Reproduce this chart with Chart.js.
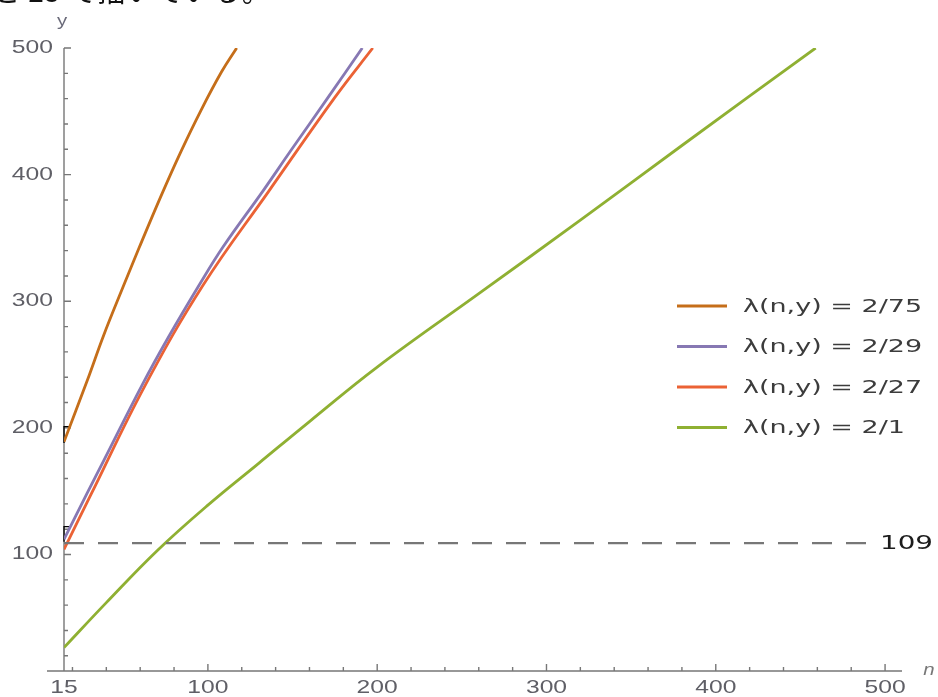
<!DOCTYPE html>
<html><head><meta charset="utf-8">
<script src="https://cdn.jsdelivr.net/npm/chart.js@4"></script>
<style>
html,body{margin:0;padding:0;background:#fff;overflow:hidden;}
#wrap{position:relative;width:938px;height:697px;}
#c{position:absolute;left:0;top:0;}
#cap{position:absolute;left:-8px;top:-24px;font-size:28px;line-height:28px;font-family:"Noto Sans CJK JP";white-space:nowrap;color:#111;letter-spacing:1px;}
</style></head><body>
<div id="wrap"><canvas id="c" width="938" height="697"></canvas><div id="cap">と 25 で描いている。</div></div>
<script>
// ---- data ----
const seriesLabels = ['λ(n,y) = 2/75', 'λ(n,y) = 2/29', 'λ(n,y) = 2/27', 'λ(n,y) = 2/1'];
const seriesColors = ['#C56E1A', '#8778B3', '#EB6235', '#8FB032'];

const n_75 = [15, 28.9, 38.4, 49.8, 59.3, 72.6, 84.0, 96.0, 108.0, 117.0];
const y_75 = [189, 238, 273, 311, 342, 384, 418, 451, 481, 500];

const n_29 = [15, 28.9, 38.4, 61.2, 76.4, 95.4, 109.0, 133.0, 149.0, 171.0, 191.2];
const y_29 = [112, 149, 174, 234, 271, 314, 343, 388, 419, 461, 500];

const n_27 = [15, 30.8, 63.1, 97.3, 136.0, 175.0, 197.4];
const y_27 = [104, 147, 234, 313, 387, 461, 500];

const n_1 = [15, 40, 70, 100, 130, 160, 200, 260, 320, 380, 459];
const y_1 = [26.5, 62, 103, 139, 172, 205, 248, 306, 364, 423, 500];

const thresholdValue = 109;
const thresholdRange = [15, 490];

const xTickLabels = ['15', '100', '200', '300', '400', '500'];
const xTickValues = [15, 100, 200, 300, 400, 500];
const yTickValues = [100, 200, 300, 400, 500];
const bracketMarks = [[188, 201], [110, 122]];

// ---- build datasets ----
const xs = [n_75, n_29, n_27, n_1];
const ys = [y_75, y_29, y_27, y_1];
const datasets = [{
  label: 'threshold',
  data: thresholdRange.map(v => ({x: v, y: thresholdValue})),
  borderColor: '#777777', borderWidth: 2.3, borderDash: [20, 14],
  pointRadius: 0, fill: false
}];
seriesLabels.forEach((lab, i) => {
  datasets.push({
    label: lab,
    data: xs[i].map((v, k) => ({x: v, y: ys[i][k]})),
    borderColor: seriesColors[i], borderWidth: 2.8,
    pointRadius: 0, fill: false, tension: 0.4
  });
});

function txt(ctx, s, x, y, align, font, color, sx) {
  ctx.save();
  ctx.font = font; ctx.fillStyle = color; ctx.textBaseline = 'middle'; ctx.textAlign = align;
  ctx.translate(x, y); ctx.scale(sx, 1); ctx.fillText(s, 0, 0);
  ctx.restore();
}

const axesPlugin = {
  id: 'mmaAxes',
  beforeDatasetsDraw(chart) {
    const ctx = chart.ctx, sx = chart.scales.x, sy = chart.scales.y;
    const x0 = sx.getPixelForValue(sx.min), yb = sy.getPixelForValue(sy.min);
    const yt = sy.getPixelForValue(sy.max), xr = sx.right;
    ctx.save();
    ctx.strokeStyle = '#777'; ctx.lineWidth = 1.4;
    ctx.beginPath();
    ctx.moveTo(x0 - 17, yb); ctx.lineTo(xr, yb);
    ctx.moveTo(x0, yb); ctx.lineTo(x0, yt);
    for (let v = 20; v <= sx.max; v += 20) {
      const p = sx.getPixelForValue(v);
      const len = (v % 100 === 0) ? 7 : 4;
      ctx.moveTo(p, yb); ctx.lineTo(p, yb - len);
    }
    for (let v = 20; v <= sy.max; v += 20) {
      const p = sy.getPixelForValue(v);
      const len = (v % 100 === 0) ? 7 : 4;
      ctx.moveTo(x0, p); ctx.lineTo(x0 + len, p);
    }
    ctx.stroke();
    ctx.strokeStyle = '#000'; ctx.lineWidth = 1.3;
    ctx.beginPath();
    bracketMarks.forEach(([a, b]) => {
      const pa = sy.getPixelForValue(a), pb = sy.getPixelForValue(b);
      ctx.moveTo(x0, pa); ctx.lineTo(x0, pb); ctx.lineTo(x0 + 5, pb);
    });
    ctx.stroke();
    ctx.restore();
  },
  afterDraw(chart) {
    const ctx = chart.ctx, sx = chart.scales.x, sy = chart.scales.y;
    const x0 = sx.getPixelForValue(sx.min), yb = sy.getPixelForValue(sy.min);
    const tickFont = '18px "Liberation Sans"';
    xTickValues.forEach((v, i) => {
      txt(ctx, xTickLabels[i], sx.getPixelForValue(v), yb + 17, 'center', tickFont, '#5f5f66', 1.37);
    });
    yTickValues.forEach(v => {
      txt(ctx, String(v), x0 - 11, sy.getPixelForValue(v), 'right', tickFont, '#5f5f66', 1.37);
    });
    txt(ctx, 'y', x0 - 2, 21, 'center', '17px "Liberation Sans"', '#6b6b7a', 1.2);
    txt(ctx, 'n', 929, yb - 1, 'center', 'italic 17px "Liberation Sans"', '#777', 1.2);
    txt(ctx, String(thresholdValue), 880, sy.getPixelForValue(thresholdValue) + 1, 'left', '20px "DejaVu Sans"', '#1c1c1c', 1.39);
    const rowY = [306, 346.5, 387, 427.5];
    seriesLabels.forEach((lab, i) => {
      ctx.save();
      ctx.strokeStyle = seriesColors[i]; ctx.lineWidth = 2.8;
      ctx.beginPath(); ctx.moveTo(677, rowY[i]); ctx.lineTo(727, rowY[i]); ctx.stroke();
      ctx.restore();
      txt(ctx, lab, 743, rowY[i] + 1, 'left', '18px "DejaVu Sans"', '#3c3c3c', 1.5);
    });
  }
};

new Chart(document.getElementById('c'), {
  type: 'line',
  data: { datasets },
  options: {
    responsive: false, animation: false,
    layout: { padding: { left: 64, top: 48, right: 36, bottom: 26 } },
    plugins: { legend: { display: false }, tooltip: { enabled: false } },
    scales: {
      x: { type: 'linear', min: 15, max: 510, display: false },
      y: { type: 'linear', min: 8, max: 500, display: false }
    }
  },
  plugins: [axesPlugin]
});
</script>
</body></html>
